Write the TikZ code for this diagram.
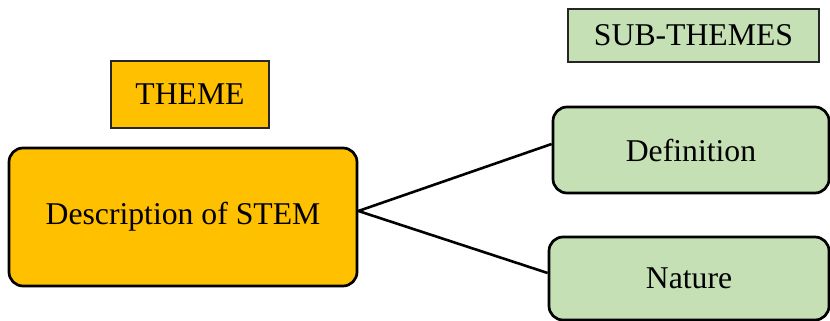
\documentclass[tikz,border=0pt]{standalone}
\usepackage{fontspec}
\setmainfont{Liberation Serif}
\definecolor{themeorange}{HTML}{FFC000}
\definecolor{subgreen}{HTML}{C5E0B4}
\begin{document}
\begin{tikzpicture}[x=1pt,y=-1pt,
  txt/.style={font=\fontsize{31.7}{38}\selectfont, text=black, inner sep=0pt},
  mainbox/.style={txt, draw=black, line width=2.7pt, rounded corners=14pt},
  labelbox/.style={txt, draw=black!85, line width=1.6pt},
  link/.style={draw=black, line width=2.6pt}]
\useasboundingbox (0,0) rectangle (830,321);
\node[labelbox, fill=themeorange, minimum width=158pt, minimum height=67pt] (theme) at (190,94.5) {THEME};
\node[labelbox, fill=subgreen, minimum width=251pt, minimum height=53pt] (sub) at (693.5,35.5) {SUB-THEMES};
\node[mainbox, fill=themeorange, minimum width=348pt, minimum height=138pt] (desc) at (183,217) {Description of STEM};
\node[mainbox, fill=subgreen, minimum width=276pt, minimum height=86pt] (def) at (691,150) {Definition};
\node[mainbox, fill=subgreen, minimum width=280pt, minimum height=83pt] (nat) at (689,278.5) {Nature};
\draw[link] ([yshift=6pt]desc.east) -- ([yshift=6pt]def.west);
\draw[link] ([yshift=6pt]desc.east) -- ([yshift=5.5pt]nat.west);
\end{tikzpicture}
\end{document}
